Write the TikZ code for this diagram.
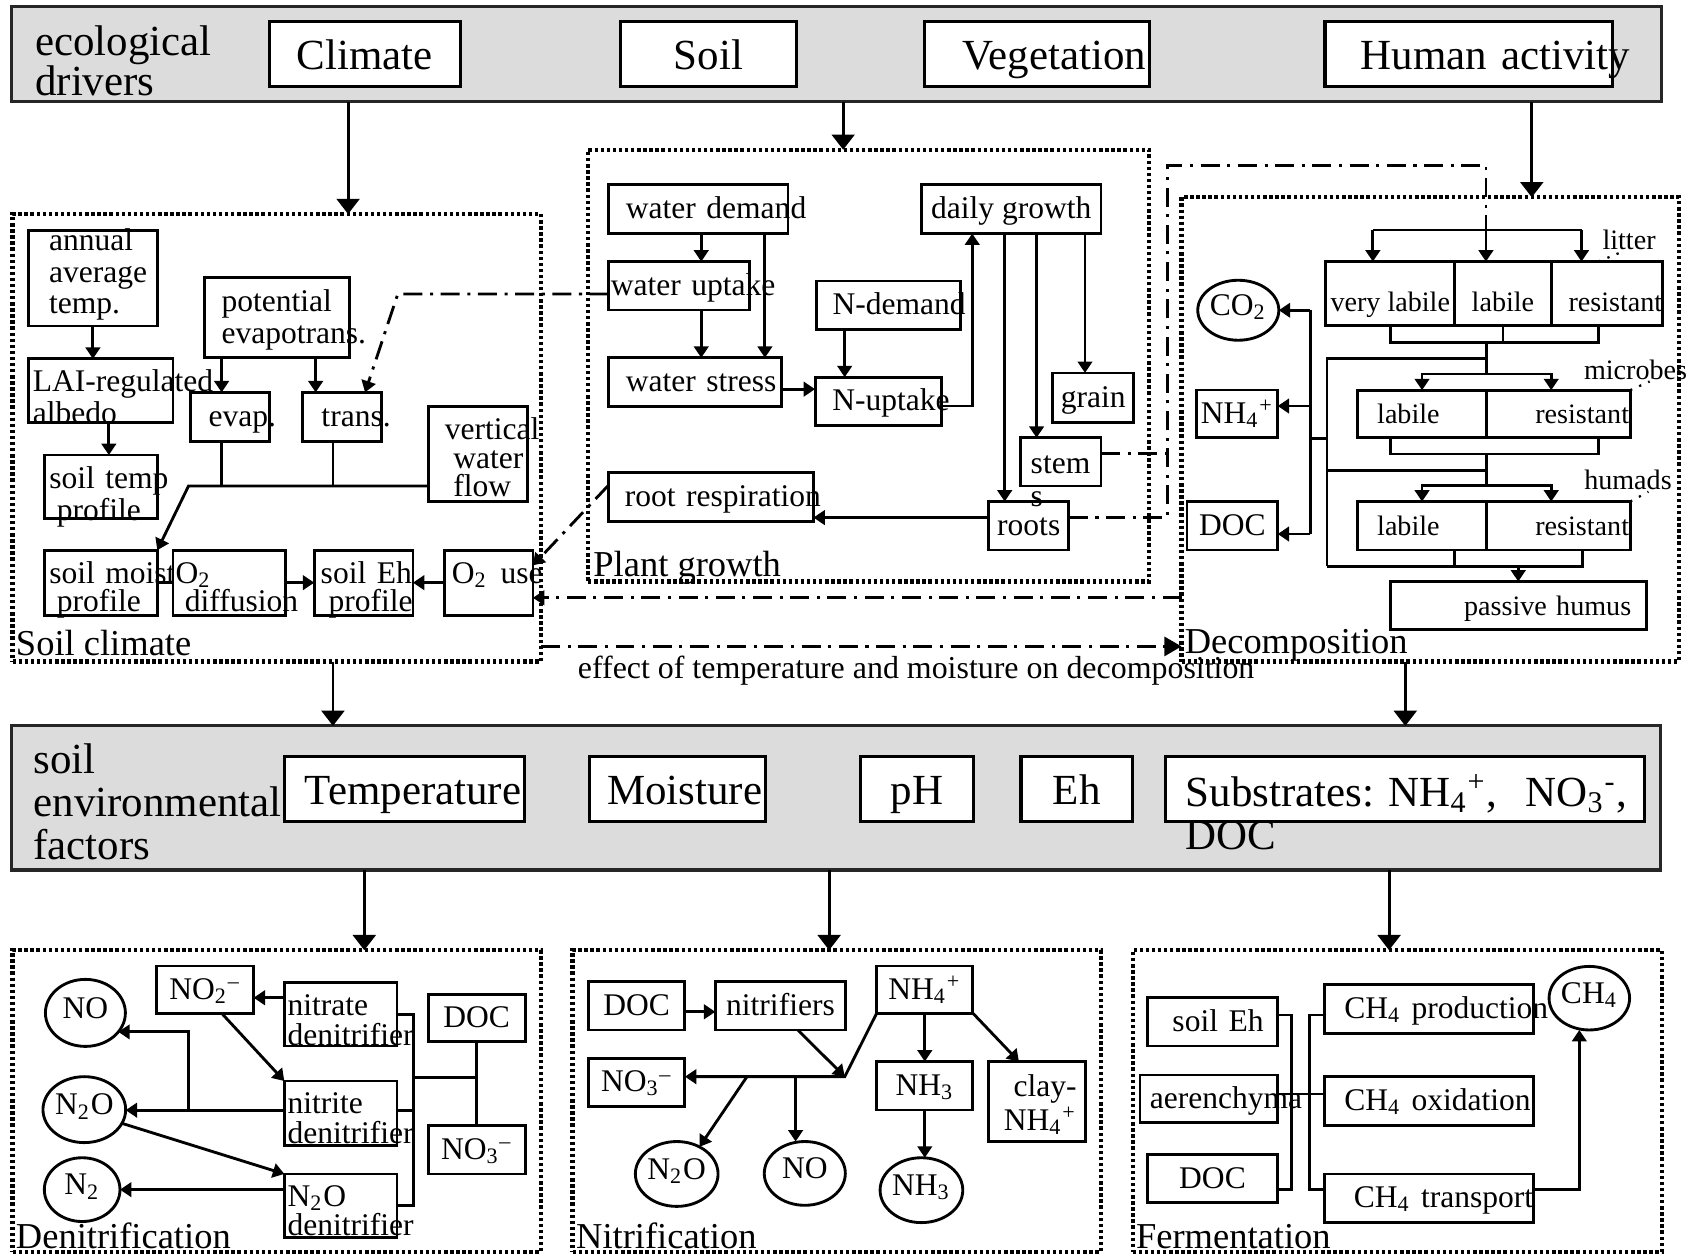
\documentclass[tikz,border=0pt]{standalone}
\usepackage{fontspec}
\setmainfont{Liberation Serif}
\usepackage{tikz}
\usetikzlibrary{arrows.meta,shapes,positioning,calc}

\definecolor{bandgray}{RGB}{220,220,220}
\newcommand\chsub[1]{\textsubscript{#1}}
\newcommand\chsup[1]{\textsuperscript{#1}}
\hyphenpenalty=10000
\exhyphenpenalty=10000
\lineskiplimit=-20pt

\begin{document}
\begin{tikzpicture}[x=0.1mm, y=-0.1mm,
    >={Triangle[length=3pt,width=3.8pt]},
    every node/.style={outer sep=0pt},
    box/.style={draw, line width=.75pt, fill=white, inner xsep=.5pt, inner ysep=.5pt,
      font=\fontsize{8.3}{8.3}\selectfont, text height=6pt, text depth=1pt},
    lbox/.style={box, align=left},
    mbox/.style={box, align=left, inner ysep=0pt},
    dbox/.style={box, font=\fontsize{7.4}{7.4}\selectfont},
    bigbox/.style={box, line width=.8pt, font=\fontsize{11.3}{11.3}\selectfont,
      text height=9pt, text depth=1pt},
    oval/.style={draw, ellipse, line width=.75pt, fill=white, inner sep=0pt,
      font=\fontsize{8.3}{8.3}\selectfont, text height=5pt, text depth=2.2pt},
    frame/.style={draw, line width=1.1pt, dash pattern=on .9pt off .7pt, inner sep=0pt},
    band/.style={draw=black!85, line width=.8pt, fill=bandgray, inner sep=0pt},
    framelbl/.style={anchor=base west, inner sep=0pt, font=\fontsize{9.6}{9.6}\selectfont},
    bandlbl/.style={anchor=base west, inner sep=0pt, align=left, text width=60mm},
    poollbl/.style={inner sep=.5pt, font=\fontsize{7.4}{7.4}\selectfont},
    con/.style={line width=.75pt},
    dd/.style={line width=.75pt, dash pattern=on 5pt off 2pt on .8pt off 2pt},
    big/.style={line width=.75pt, -{Triangle[length=4pt,width=6pt]}},
    leader/.style={line width=.6pt, dotted}
  ]
  \useasboundingbox (0,0) rectangle (1568,1160);

  % bands and frames
  \node[band, minimum width=152.6mm, minimum height=8.8mm] (drivers) at (774,50) {};
  \node[band, minimum width=152.5mm, minimum height=13.33mm] (envfac) at (773.5,738.15) {};
  \node[frame, minimum width=48.89mm, minimum height=41.4mm] (soilclim) at (256.05,405) {};
  \node[frame, minimum width=51.9mm, minimum height=39.95mm] (plant) at (803.5,338.25) {};
  \node[frame, minimum width=46mm, minimum height=42.95mm] (decomp) at (1323,397.25) {};
  \node[frame, minimum width=48.89mm, minimum height=27.9mm] (denit) at (256.05,1018.5) {};
  \node[frame, minimum width=48.89mm, minimum height=27.9mm] (nitrif) at (774.05,1018.5) {};
  \node[frame, minimum width=48.95mm, minimum height=27.9mm] (ferm) at (1292.55,1018.5) {};

  \node[framelbl] (soilclimlbl) at (14.8,606) {Soil climate};
  \node[framelbl] (plantlbl) at (549,533) {Plant growth};
  \node[framelbl] (decomplbl) at (1096,605) {Decomposition};
  \node[framelbl] (denitlbl) at (14.8,1154.5) {Denitrification};
  \node[framelbl] (nitriflbl) at (533,1154.5) {Nitrification};
  \node[framelbl] (fermlbl) at (1051,1154.5) {Fermentation};

  % ecological drivers
  \node[bandlbl, font=\fontsize{11.3}{10.7}\selectfont] (driverslbl) at (32.6,51) {ecological\\drivers};
  \node[bigbox, minimum width=17.7mm, minimum height=6mm] (climate) at (337.5,50) {Climate};
  \node[bigbox, minimum width=16.3mm, minimum height=6mm] (soil) at (655.5,50) {Soil};
  \node[bigbox, align=left, text width=13.75mm, inner xsep=3.55mm, minimum height=6mm] (veget) at (959.25,50) {Vegetation};
  \node[bigbox, align=left, text width=20.03mm, inner xsep=3.3mm, minimum height=6mm] (human) at (1358.85,50) {Human~activity};

  % soil environmental factors
  \node[bandlbl, font=\fontsize{11.3}{11.3}\selectfont] (envfaclbl) at (31,716) {soil\\environmental\\factors};
  \node[bigbox, align=left, text width=18.4mm, inner xsep=1.9mm, minimum height=6mm] (temper) at (374,730) {Temperature};
  \node[bigbox, align=left, text width=12.98mm, inner xsep=1.66mm, minimum height=6mm] (moist) at (626.5,730) {Moisture};
  \node[bigbox, minimum width=10.46mm, minimum height=6mm] (ph) at (848.3,730) {pH};
  \node[bigbox, minimum width=10.33mm, minimum height=6mm] (eh) at (996.15,730) {Eh};
  \node[bigbox, align=left, text width=40.5mm, inner xsep=1.9mm, inner ysep=0pt,
    text height=13.1pt, text depth=3.97pt, font=\fontsize{11.3}{11.4}\selectfont] (subst) at (1299.5,730)
    {Substrates:~NH\chsub{4}\chsup{+},~~NO\chsub{3}\chsup{-},\\DOC};

  % soil climate
  \node[mbox, text width=8.1mm, inner xsep=1.9mm, text height=5.4pt, text depth=19.8pt,
    font=\fontsize{8.3}{8.25}\selectfont] (annualt) at (85.95,257.3) {annual\\average\\temp.};
  \node[mbox, text width=12.56mm, inner xsep=.4mm, text height=8.5pt, text depth=8.3pt,
    font=\fontsize{8.3}{7.4}\selectfont] (lai) at (93.2,361.5) {LAI-regulated\\albedo};
  \node[mbox, text width=9.53mm, inner xsep=.46mm, text height=8.7pt, text depth=8.1pt,
    font=\fontsize{8.3}{7.5}\selectfont] (soiltemp) at (93.25,450.5) {soil~temp\\\hspace*{.7mm}profile};
  \node[mbox, text width=10.2mm, inner xsep=1.6mm, text height=8.9pt, text depth=12.15pt,
    font=\fontsize{8.3}{8.3}\selectfont] (potevap) at (256,294) {potential\\evapotrans.};
  \node[lbox, text width=3.95mm, inner xsep=1.7mm, minimum height=4.55mm] (evap) at (212.75,385.75) {evap.};
  \node[lbox, text width=3.79mm, inner xsep=1.74mm, minimum height=4.55mm] (transpn) at (316.35,385.75) {trans.};
  \node[mbox, text width=6.08mm, inner xsep=1.56mm, text height=8.8pt, text depth=16.2pt,
    font=\fontsize{8.3}{7.45}\selectfont] (vwf) at (442,420) {vertical\\\hspace*{.77mm}water\\\hspace*{.77mm}flow};
  \node[mbox, text width=9.53mm, inner xsep=.46mm, text height=8.7pt, text depth=8.37pt,
    font=\fontsize{8.3}{7.45}\selectfont] (soilmoist) at (93.25,539) {soil~moist\\\hspace*{.7mm}profile};
  \node[mbox, text width=9.95mm, inner xsep=.25mm, text height=8.7pt, text depth=8.37pt,
    font=\fontsize{8.3}{7.45}\selectfont] (o2diff) at (212.25,539) {O\chsub{2}\\\hspace*{.85mm}diffusion};
  \node[mbox, text width=7.93mm, inner xsep=.6mm, text height=8.7pt, text depth=8.37pt,
    font=\fontsize{8.3}{7.45}\selectfont] (soileh) at (336.35,539) {soil~Eh\\\hspace*{.73mm}profile};
  \node[mbox, text width=6.8mm, inner xsep=.7mm, text height=8.7pt, text depth=8.37pt] (o2use) at (452,539) {\mbox{O\chsub{2}\hspace{1.2mm}use}};

  % plant growth
  \node[lbox, text width=13.4mm, inner xsep=1.6mm, minimum height=4.5mm] (wdemand) at (646,193.5) {water~demand};
  \node[lbox, text width=12.6mm, inner xsep=.2mm, minimum height=4.48mm] (wuptake) at (628,264.4) {water~uptake};
  \node[lbox, text width=12.8mm, inner xsep=1.6mm, minimum height=4.48mm] (wstress) at (643,353.4) {water~stress};
  \node[lbox, text width=10.37mm, inner xsep=1.5mm, minimum height=4.46mm] (ndemand) at (822,282.3) {N-demand};
  \node[lbox, text width=8.5mm, inner xsep=1.6mm, minimum height=4.47mm] (nuptake) at (812.5,371.35) {N-uptake};
  \node[box, minimum width=16.59mm, minimum height=4.5mm] (daily) at (935.55,193.5) {daily growth};
  \node[box, minimum width=7.48mm, minimum height=4.6mm] (grain) at (1011.4,368) {grain};
  \node[box, minimum width=7.43mm, minimum height=4.48mm] (roots) at (951.65,486.4) {roots};
  \node[mbox, text width=5.55mm, inner xsep=.95mm, text height=9.3pt, text depth=3.39pt,
    font=\fontsize{8.3}{8.8}\selectfont] (stem) at (981.25,427.3) {stem\\s};
  \node[lbox, text width=15.95mm, inner xsep=1.5mm, minimum height=4.56mm] (rootresp) at (657.75,459.8) {root~respiration};

  % decomposition
  \node[oval, minimum width=7.5mm, minimum height=5.55mm] (co2) at (1145.5,287) {CO\chsub{2}};
  \node[box, minimum width=7.5mm, minimum height=4.42mm] (dnh4) at (1144.5,382.9) {NH\chsub{4}\chsup{+}};
  \node[box, minimum width=8.4mm, minimum height=4.48mm] (ddoc) at (1140,486.4) {DOC};
  \node[dbox, minimum width=11.92mm, minimum height=5.9mm, text height=9.6pt, text depth=0pt] (vlab) at (1286.1,271.5) {very labile};
  \node[dbox, minimum width=8.93mm, minimum height=5.9mm, text height=9.6pt, text depth=0pt] (llab) at (1390.35,271.5) {labile};
  \node[dbox, align=left, text width=7.1mm, inner xsep=1.6mm, minimum height=5.9mm,
    text height=9.6pt, text depth=0pt] (lres) at (1486.5,271.5) {resistant};
  \node[dbox, align=left, text width=8.3mm, inner xsep=1.8mm, minimum height=4.4mm] (mlab) at (1315.5,383) {labile};
  \node[dbox, align=right, text width=13.1mm, inner xsep=.1mm, minimum height=4.4mm] (mres) at (1441.5,383) {resistant};
  \node[dbox, align=left, text width=8.3mm, inner xsep=1.8mm, minimum height=4.48mm] (hlab) at (1315.5,486.4) {labile};
  \node[dbox, align=right, text width=13.1mm, inner xsep=.1mm, minimum height=4.48mm] (hres) at (1441.5,486.4) {resistant};
  \node[dbox, align=right, text width=20.9mm, inner xsep=1.4mm, minimum height=4.47mm] (passive) at (1404.5,560.35) {passive humus};
  \node[poollbl] (litter) at (1507,222) {litter};
  \node[poollbl] (microbes) at (1513,342) {microbes};
  \node[poollbl] (humads) at (1506,444) {humads};

  % denitrification
  \node[oval, minimum width=7.4mm, minimum height=6.2mm] (no) at (79,937) {NO};
  \node[oval, minimum width=7.4mm, minimum height=6.1mm] (n2o) at (78,1026.5) {N\chsub{2}O};
  \node[oval, minimum width=7mm, minimum height=5.9mm] (n2) at (76,1100.5) {N\chsub{2}};
  \node[box, minimum width=8.99mm, minimum height=4.37mm] (no2) at (189.65,915.45) {NO\chsub{2}\chsup{--}};
  \node[mbox, text width=9.83mm, inner xsep=.3mm, text height=8.76pt, text depth=7.91pt,
    font=\fontsize{8.3}{7.9}\selectfont] (nitrateden) at (315.15,938.3) {nitrate\\denitrifier};
  \node[mbox, text width=9.83mm, inner xsep=.3mm, text height=8.48pt, text depth=8.59pt,
    font=\fontsize{8.3}{7.9}\selectfont] (nitriteden) at (315.15,1030) {nitrite\\denitrifier};
  \node[mbox, text width=9.83mm, inner xsep=.3mm, text height=8.5pt, text depth=8.29pt,
    font=\fontsize{8.3}{7.8}\selectfont] (n2oden) at (315.15,1115.5) {N\chsub{2}O\\denitrifier};
  \node[box, minimum width=9mm, minimum height=4.35mm] (ddoc2) at (441,941.75) {DOC};
  \node[box, minimum width=9mm, minimum height=4.5mm] (dno3) at (441,1063.5) {NO\chsub{3}\chsup{--}};

  % nitrification
  \node[box, minimum width=8.92mm, minimum height=4.48mm] (ndoc) at (589,930.4) {DOC};
  \node[box, minimum width=12.05mm, minimum height=4.48mm] (nitrifiers) at (722,930.4) {nitrifiers};
  \node[box, minimum width=8.9mm, minimum height=4.37mm] (nnh4) at (855.5,915.45) {NH\chsub{4}\chsup{+}};
  \node[box, minimum width=8.92mm, minimum height=4.49mm] (nno3) at (589,1001.25) {NO\chsub{3}\chsup{--}};
  \node[box, minimum width=8.9mm, minimum height=4.48mm] (nnh3b) at (855.5,1004.4) {NH\chsub{3}};
  \node[mbox, align=right, text width=7.35mm, inner xsep=.8mm, text height=9.2pt, text depth=11.85pt,
    font=\fontsize{8.3}{7.85}\selectfont] (clay) at (959.25,1019) {clay-\\NH\chsub{4}\chsup{+}};
  \node[oval, minimum width=7.4mm, minimum height=6mm] (nn2o) at (626,1086) {N\chsub{2}O};
  \node[oval, minimum width=7.5mm, minimum height=5.9mm] (nno) at (744.5,1085.5) {NO};
  \node[oval, minimum width=7.47mm, minimum height=6mm] (nnh3) at (852.4,1101) {NH\chsub{3}};

  % fermentation
  \node[box, align=right, text width=9.45mm, inner xsep=1.3mm, minimum height=4.46mm] (feh) at (1121.65,945.3) {soil~Eh};
  \node[lbox, text width=10.93mm, inner xsep=.9mm, minimum height=4.41mm] (aeren) at (1118.25,1016.45) {aerenchyma};
  \node[box, minimum width=12.05mm, minimum height=4.45mm] (fdoc) at (1121.65,1090.25) {DOC};
  \node[lbox, text width=15.64mm, inner xsep=1.86mm, minimum height=4.48mm] (prod) at (1321.8,933.4) {CH\chsub{4}~production};
  \node[lbox, text width=15.64mm, inner xsep=1.86mm, minimum height=4.5mm] (oxid) at (1321.8,1018.5) {CH\chsub{4}~oxidation};
  \node[lbox, text width=13.88mm, inner xsep=2.74mm, minimum height=4.5mm] (ch4tr) at (1321.8,1108.5) {CH\chsub{4}~transport};
  \node[oval, minimum width=7.45mm, minimum height=5.88mm] (ch4) at (1470.25,923.4) {CH\chsub{4}};

  % main arrows
  \coordinate (climx) at (322,0);
  \coordinate (vegx) at (780,0);
  \coordinate (humx) at (1417,0);
  \coordinate (scx) at (308,0);
  \coordinate (dcx) at (1300,0);
  \coordinate (dnx) at (337,0);
  \coordinate (nfx) at (767,0);
  \coordinate (fmx) at (1285,0);
  \draw[big] (drivers.south -| climx) -- (soilclim.north -| climx);
  \draw[big] (drivers.south -| vegx) -- (plant.north -| vegx);
  \draw[big] (drivers.south -| humx) -- (decomp.north -| humx);
  \draw[big] (soilclim.south -| scx) -- (envfac.north -| scx);
  \draw[big] (decomp.south -| dcx) -- (envfac.north -| dcx);
  \draw[big] (envfac.south -| dnx) -- (denit.north -| dnx);
  \draw[big] (envfac.south -| nfx) -- (nitrif.north -| nfx);
  \draw[big] (envfac.south -| fmx) -- (ferm.north -| fmx);

  % soil climate links
  \coordinate (laix) at (100.7,0);
  \coordinate (evx) at (205,0);
  \coordinate (trx) at (292,0);
  \coordinate (trdx) at (308,0);
  \coordinate (wbus) at (174.4,449.6);
  \draw[con,->] (annualt.south) -- (annualt.south |- lai.north);
  \draw[con,->] (lai.south -| laix) -- (soiltemp.north -| laix);
  \draw[con,->] (potevap.south -| evx) -- (evap.north -| evx);
  \draw[con,->] (potevap.south -| trx) -- (transpn.north -| trx);
  \draw[con] (evap.south -| evx) -- (evx |- wbus);
  \draw[con] (transpn.south -| trdx) -- (trdx |- wbus);
  \draw[con,->] (vwf.west |- wbus) -- (wbus) -- (soilmoist.north east);
  \draw[con] (soilmoist.east) -- (o2diff.west);
  \draw[con,->] (o2diff.east) -- (soileh.west);
  \draw[con,->] (o2use.west) -- (soileh.east);

  % plant growth links
  \coordinate (wux) at (648.7,0);
  \coordinate (wsx) at (707.6,0);
  \coordinate (wsy) at (0,360);
  \coordinate (ndx) at (781.4,0);
  \coordinate (nuy) at (0,375.6);
  \coordinate (dgx) at (899.4,0);
  \coordinate (rtx) at (929.4,0);
  \coordinate (stx) at (958.9,0);
  \coordinate (grx) at (1003.7,0);
  \coordinate (rty) at (0,478.8);
  \coordinate (sty) at (0,419.3);
  \draw[con,->] (wdemand.south -| wux) -- (wuptake.north -| wux);
  \draw[con,->] (wdemand.south -| wsx) -- (wstress.north -| wsx);
  \draw[con,->] (wuptake.south -| wux) -- (wstress.north -| wux);
  \draw[con,->] (wstress.east |- wsy) -- (nuptake.west |- wsy);
  \draw[con,->] (ndemand.south -| ndx) -- (nuptake.north -| ndx);
  \draw[con,->] (nuptake.east |- nuy) -| (daily.south -| dgx);
  \draw[con,->] (daily.south -| rtx) -- (roots.north -| rtx);
  \draw[con,->] (daily.south -| stx) -- (stem.north -| stx);
  \draw[con,->] (daily.south -| grx) -- (grain.north -| grx);
  \draw[con,->] (roots.west |- rty) -- (rootresp.east |- rty);

  % dash-dot feedbacks
  \coordinate (wuy) at (0,272);
  \coordinate (wbend) at (368,272);
  \coordinate (o2y) at (0,553);
  \coordinate (effy) at (0,598);
  \coordinate (ppx) at (1080,153);
  \coordinate (lity) at (0,212.8);
  \coordinate (lcx) at (1374.6,0);
  \draw[dd,->] (wuptake.west |- wuy) -- (wbend) -- ([xshift=-1.5mm]transpn.north east);
  \draw[dd,->] ([yshift=1.1mm]rootresp.west) -- ([yshift=-1.4mm]o2use.north east);
  \draw[dd,->] (decomp.west |- o2y) -- (o2use.east |- o2y);
  \draw[dd,-{Triangle[length=4.5pt,width=5pt]}] (soilclim.east |- effy) -- (decomp.west |- effy);
  \node[anchor=base, inner sep=0pt, font=\fontsize{8.4}{8.4}\selectfont] (effectlbl) at (847.5,628)
    {effect of temperature and moisture on decomposition};
  \draw[dd] (stem.east |- sty) -- (ppx |- sty);
  \draw[dd] (roots.east |- rty) -| (ppx) -| (lcx |- lity);

  % decomposition pools
  \coordinate (lax) at (1270,0);
  \coordinate (lrx) at (1463,0);
  \coordinate (c1y) at (0,317);
  \coordinate (c1x) at (1478.5,0);
  \coordinate (c2x) at (1286,0);
  \coordinate (midx) at (1375,0);
  \coordinate (rcx) at (1435,0);
  \coordinate (m1y) at (0,346);
  \coordinate (m2y) at (0,420);
  \coordinate (h1y) at (0,449);
  \coordinate (h2x) at (1345.7,0);
  \coordinate (h3x) at (1464,0);
  \coordinate (busx) at (1227.6,0);
  \coordinate (b1y) at (0,331.5);
  \coordinate (b2y) at (0,435);
  \coordinate (b3y) at (0,405.5);
  \coordinate (b4y) at (0,524);
  \coordinate (outx) at (1212.3,0);
  \coordinate (nh4y) at (0,375.6);
  \coordinate (docy) at (0,494);
  \draw[con] (lax |- lity) -- (lrx |- lity);
  \draw[con,->] (lax |- lity) -- (vlab.north -| lax);
  \draw[con,->] (lcx |- lity) -- (llab.north -| lcx);
  \draw[con,->] (lrx |- lity) -- (lres.north -| lrx);
  \draw[con] (vlab.south) -- (vlab.south |- c1y) -- (c1x |- c1y) -- (lres.south -| c1x);
  \draw[con] (llab.south) -- (llab.south |- c1y);
  \draw[con] (midx |- c1y) -- (midx |- m1y);
  \draw[con,->] (midx |- m1y) -| (mlab.north);
  \draw[con,->] (midx |- m1y) -| (mres.north -| rcx);
  \draw[con] (midx |- b1y) -- (busx |- b1y) -- (busx |- b4y);
  \draw[con] (mlab.south -| c2x) -- (c2x |- m2y) -- (c1x |- m2y) -- (mres.south -| c1x);
  \draw[con] (midx |- m2y) -- (midx |- h1y);
  \draw[con] (midx |- b2y) -- (busx |- b2y);
  \draw[con,->] (midx |- h1y) -| (hlab.north);
  \draw[con,->] (midx |- h1y) -| (hres.north -| rcx);
  \draw[con] (hlab.south -| h2x) -- (h2x |- b4y);
  \draw[con] (hres.south -| h3x) -- (h3x |- b4y) -- (busx |- b4y);
  \draw[con,->] (passive.north |- b4y) -- (passive.north);
  \draw[con] (busx |- b3y) -- (outx |- b3y);
  \draw[con] (outx |- co2.east) -- (outx |- docy);
  \draw[con,->] (outx |- co2.east) -- (co2.east);
  \draw[con,->] (outx |- nh4y) -- (dnh4.east |- nh4y);
  \draw[con,->] (outx |- docy) -- (ddoc.east |- docy);
  \draw[leader] (lres.north -| c1x) -- (litter.240);
  \draw[leader] (mres.north east) -- (microbes.-40);
  \draw[leader] (hres.north east) -- (humads.-30);

  % denitrification links
  \coordinate (d1y) at (0,923);
  \coordinate (d1x) at (205,0);
  \coordinate (d2y) at (0,1027);
  \coordinate (d2x) at (174.5,0);
  \coordinate (brx) at (382.6,0);
  \coordinate (d4y) at (0,997);
  \draw[con,->] (nitrateden.west |- d1y) -- (no2.east |- d1y);
  \draw[con,->] (no2.south -| d1x) -- (nitriteden.north west);
  \draw[con,->] (nitriteden.west |- d2y) -- (n2o.east |- d2y);
  \draw[con,->] (d2x |- d2y) |- (no.-30);
  \draw[con,->] (n2o.-20) -- (n2oden.north west);
  \draw[con,->] (n2oden.west |- n2.east) -- (n2.east);
  \draw[con] (nitrateden.east) -| (brx |- n2oden.east) -- (n2oden.east);
  \draw[con] (nitriteden.east |- d2y) -- (brx |- d2y);
  \draw[con] (brx |- d4y) -- (ddoc2.south |- d4y);
  \draw[con] (ddoc2.south) -- (dno3.north);

  % nitrification links
  \coordinate (ny1) at (0,936);
  \coordinate (njct) at (781.5,996);
  \coordinate (nx1) at (738,0);
  \coordinate (nx2) at (691,0);
  \coordinate (nx3) at (736,0);
  \coordinate (nx5) at (942.6,0);
  \draw[con,->] (ndoc.east |- ny1) -- (nitrifiers.west |- ny1);
  \draw[con,->] (nitrifiers.south -| nx1) -- (njct);
  \draw[con,->] (nnh4.south west) -- (njct) -- (nno3.east |- njct);
  \draw[con,->] (nx2 |- njct) -- (nn2o.50);
  \draw[con,->] (nx3 |- njct) -- (nno.north -| nx3);
  \draw[con,->] (nnh4.south) -- (nnh3b.north);
  \draw[con,->] (nnh4.south east) -- (clay.north -| nx5);
  \draw[con,->] (nnh3b.south) -- (nnh3b.south |- nnh3.north);

  % fermentation links
  \coordinate (f1y) at (0,939);
  \coordinate (f2y) at (0,1100);
  \coordinate (f3y) at (0,1012);
  \coordinate (f1x) at (1195,0);
  \coordinate (f2x) at (1211,0);
  \coordinate (f3x) at (1461,0);
  \draw[con] (feh.east |- f1y) -| (f1x |- f2y) -- (fdoc.east |- f2y);
  \draw[con] (aeren.east |- f3y) -- (oxid.west |- f3y);
  \draw[con] (prod.west |- f1y) -| (f2x |- f2y) -- (ch4tr.west |- f2y);
  \draw[con,->] (ch4tr.east |- f2y) -| (f3x |- ch4.south);
\end{tikzpicture}
\end{document}
